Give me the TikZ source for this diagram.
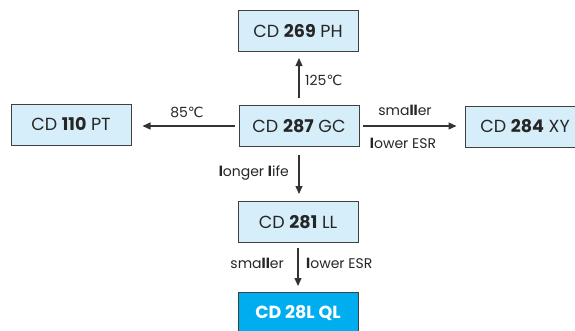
\documentclass[tikz,border=0pt]{standalone}
\usepackage{fontspec}
\setmainfont{Poppins}
\newfontfamily\djv{DejaVu Sans}
\usetikzlibrary{arrows.meta}
\definecolor{boxfill}{HTML}{D6EEFA}
\definecolor{boxline}{HTML}{404040}
\definecolor{qlfill}{HTML}{00AEEF}
\definecolor{arrowcol}{HTML}{333333}
\newcommand{\degc}{{\djv ℃}}
\tikzset{
  prodbox/.style={draw=boxline, line width=1pt, fill=boxfill, minimum width=120pt, minimum height=41pt, inner sep=0pt, font=\fontsize{17.5}{20}\selectfont, text=black!85},
  qlbox/.style={prodbox, fill=qlfill, text=white, font=\fontsize{17.5}{20}\selectfont\bfseries},
  link/.style={draw=arrowcol, line width=1.1pt, -{Triangle[length=8pt,width=7pt]}},
  lbl/.style={font=\fontsize{14}{16}\selectfont, text=black!85, inner sep=0pt}
}
\begin{document}
\begin{tikzpicture}[x=1pt,y=-1pt]
\clip (0,0) rectangle (575,330);
\node[prodbox] (ph) at (298,31) {CD \textbf{269} PH};
\node[prodbox] (gc) at (299,126) {CD \textbf{287} GC};
\node[prodbox] (pt) at (71,124.5) {CD \textbf{110} PT};
\node[prodbox] (xy) at (525,126.5) {CD \textbf{284} XY};
\node[prodbox] (ll) at (298,222) {CD \textbf{281} LL};
\node[qlbox] (ql) at (298,313) {CD 28L QL};

\draw[link, shorten <=7pt, shorten >=6pt] (gc.north) -- (gc.north |- ph.south);
\draw[link, shorten <=4pt, shorten >=11pt] (gc.west) -- (pt.east |- gc.west);
\draw[link, shorten <=3pt, shorten >=8pt] (gc.east) -- (xy.west |- gc.east);
\draw[link, shorten <=8pt, shorten >=7pt] (gc.south) -- (gc.south |- ll.north);
\draw[link, shorten <=5pt, shorten >=6pt] (ll.south) -- (ll.south |- ql.north);

\node[lbl, anchor=west] (t125) at (305,80) {125\degc};
\node[lbl] (t85) at (187,112) {85\degc};
\node[lbl] (tsm1) at (405,110) {sma\textbf{ll}er};
\node[lbl] (tesr1) at (403,143) {\textbf{l}ower ESR};
\node[lbl, anchor=east] (tlife) at (289,173) {\textbf{l}onger \textbf{l}ife};
\node[lbl, anchor=east] (tsm2) at (284,263) {sma\textbf{ll}er};
\node[lbl, anchor=west] (tesr2) at (306,263) {\textbf{l}ower ESR};
\end{tikzpicture}
\end{document}
